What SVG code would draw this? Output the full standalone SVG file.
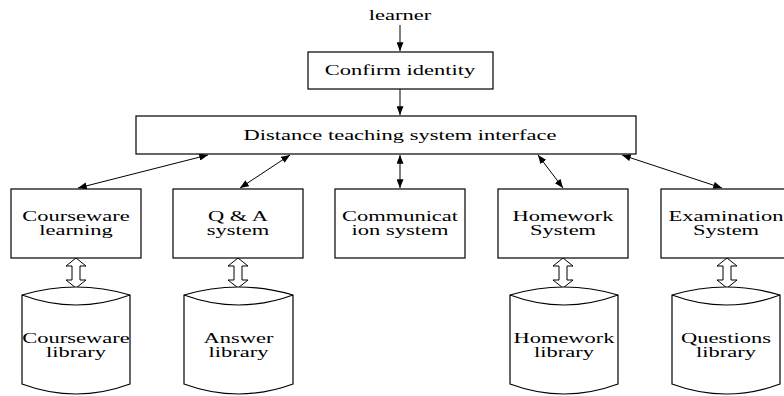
<svg xmlns="http://www.w3.org/2000/svg" width="784" height="396" viewBox="0 0 784 396">
<style>
.box{fill:#fff;stroke:#000;stroke-width:1.2}
.cyl{fill:#fff;stroke:#000;stroke-width:1.2}
.t{font-family:"Liberation Serif","Times New Roman",serif;font-size:15px;fill:#000;text-anchor:middle}
.c{stroke:#000;stroke-width:1;fill:none}
.h{fill:#fff;stroke:#000;stroke-width:1}
</style>
<defs>
<marker id="ah" viewBox="0 0 10 8" refX="10" refY="4" markerWidth="9" markerHeight="7" markerUnits="userSpaceOnUse" orient="auto-start-reverse">
<path d="M0,0 L10,4 L0,8 Z" fill="#000"/>
</marker>
<path id="dbl" d="M0,0 L10,8 L4,8 L4,22 L10,22 L0,30 L-10,22 L-4,22 L-4,8 L-10,8 Z"/>
</defs>
<rect width="784" height="396" fill="#fff"/>
<g id="connectors">
<line class="c" x1="400" y1="25" x2="400" y2="51" marker-end="url(#ah)"/>
<line class="c" x1="400" y1="89" x2="400" y2="115" marker-end="url(#ah)"/>
<line class="c" x1="208" y1="155" x2="78" y2="188" marker-start="url(#ah)" marker-end="url(#ah)"/>
<line class="c" x1="290" y1="155" x2="240" y2="188" marker-start="url(#ah)" marker-end="url(#ah)"/>
<line class="c" x1="400" y1="155" x2="400" y2="188" marker-start="url(#ah)" marker-end="url(#ah)"/>
<line class="c" x1="538" y1="155" x2="563" y2="188" marker-start="url(#ah)" marker-end="url(#ah)"/>
<line class="c" x1="622" y1="155" x2="722" y2="188" marker-start="url(#ah)" marker-end="url(#ah)"/>
<use href="#dbl" class="h" x="76" y="258"/>
<use href="#dbl" class="h" x="238" y="258"/>
<use href="#dbl" class="h" x="563" y="258"/>
<use href="#dbl" class="h" x="727" y="258"/>
</g>
<g id="learner">
<text class="t" transform="translate(400,20) scale(1.5,1)">learner</text>
</g>
<g id="confirm">
<rect class="box" x="308" y="52" width="185" height="37"/>
<text class="t" transform="translate(400,75) scale(1.5,1)">Confirm identity</text>
</g>
<g id="interface">
<rect class="box" x="136" y="116" width="500" height="38"/>
<text class="t" transform="translate(400,140) scale(1.5,1)">Distance teaching system interface</text>
</g>
<g id="courseware">
<rect class="box" x="11" y="189" width="130" height="69"/>
<text class="t" transform="translate(76,220.5) scale(1.5,1)"><tspan x="0">Courseware</tspan><tspan x="0" dy="15">learning</tspan></text>
</g>
<g id="qa">
<rect class="box" x="173" y="189" width="130" height="69"/>
<text class="t" transform="translate(238,220.5) scale(1.5,1)"><tspan x="0">Q &amp; A</tspan><tspan x="0" dy="15">system</tspan></text>
</g>
<g id="communication">
<rect class="box" x="335" y="189" width="130" height="69"/>
<text class="t" transform="translate(400,220.5) scale(1.5,1)"><tspan x="0">Communicat</tspan><tspan x="0" dy="15">ion system</tspan></text>
</g>
<g id="homework">
<rect class="box" x="498" y="189" width="130" height="69"/>
<text class="t" transform="translate(563,220.5) scale(1.5,1)"><tspan x="0">Homework</tspan><tspan x="0" dy="15">System</tspan></text>
</g>
<g id="examination">
<rect class="box" x="661" y="189" width="130" height="69"/>
<text class="t" transform="translate(726,220.5) scale(1.5,1)"><tspan x="0">Examination</tspan><tspan x="0" dy="15">System</tspan></text>
</g>
<g id="courseware-library">
<path class="cyl" d="M22,295 Q76,279 130,295 L130,384 Q76,404 22,384 Z M22,295 Q76,315 130,295"/>
<text class="t" transform="translate(76,342.5) scale(1.5,1)"><tspan x="0">Courseware</tspan><tspan x="0" dy="15">library</tspan></text>
</g>
<g id="answer-library">
<path class="cyl" d="M184,295 Q238.5,279 293,295 L293,384 Q238.5,404 184,384 Z M184,295 Q238.5,315 293,295"/>
<text class="t" transform="translate(238.5,342.5) scale(1.5,1)"><tspan x="0">Answer</tspan><tspan x="0" dy="15">library</tspan></text>
</g>
<g id="homework-library">
<path class="cyl" d="M510,295 Q564,279 618,295 L618,384 Q564,404 510,384 Z M510,295 Q564,315 618,295"/>
<text class="t" transform="translate(564,342.5) scale(1.5,1)"><tspan x="0">Homework</tspan><tspan x="0" dy="15">library</tspan></text>
</g>
<g id="questions-library">
<path class="cyl" d="M672,295 Q726,279 780,295 L780,384 Q726,404 672,384 Z M672,295 Q726,315 780,295"/>
<text class="t" transform="translate(726,342.5) scale(1.5,1)"><tspan x="0">Questions</tspan><tspan x="0" dy="15">library</tspan></text>
</g>
</svg>
